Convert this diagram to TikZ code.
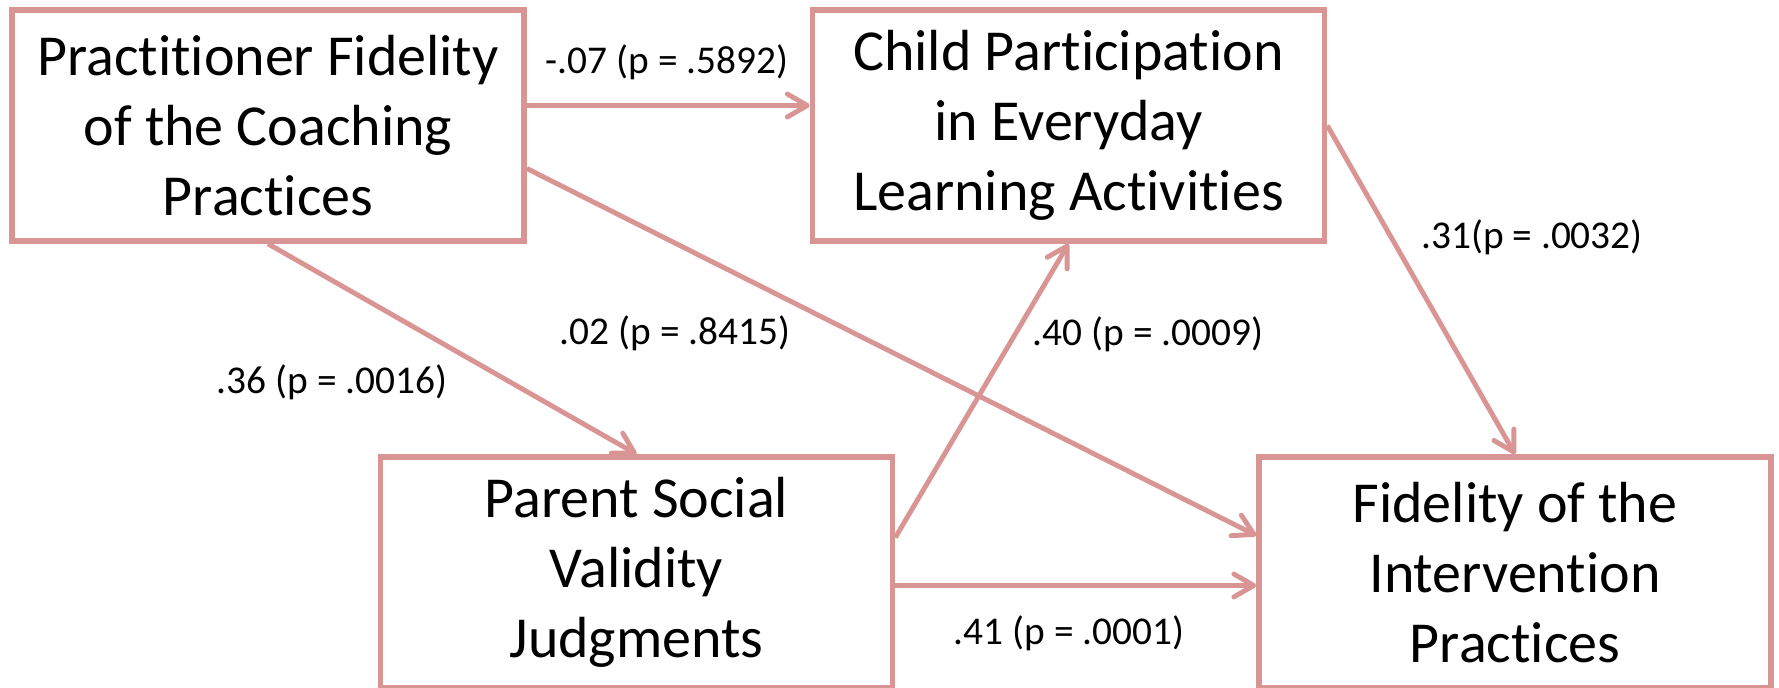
\documentclass[tikz,border=0pt]{standalone}
\usepackage{fontspec}
\setmainfont{Carlito}[Ligatures=NoCommon]
\usetikzlibrary{arrows.meta}
\definecolor{rosepath}{HTML}{D99594}

\begin{document}
\begin{tikzpicture}[every node/.style={align=center},
	box/.style={draw=rosepath, line width=1.6pt, minimum width=5.12cm, minimum height=2.31cm, inner sep=0pt, font=\fontsize{16.5}{19.9}\selectfont},
	arr/.style={draw=rosepath, line width=1.4pt, -{Straight Barb[angle=60:2.3mm, round]}},
	coef/.style={inner sep=0pt, font=\fontsize{11.2}{13.5}\selectfont}]
	\useasboundingbox (0,0) rectangle (17.79,-6.87);
	\node[box] (pfc) at (2.68,-1.255)   {Practitioner Fidelity\\of the Coaching\\Practices};
	\node[box] (cpe) at (10.685,-1.255) {Child Participation\\in Everyday\\Learning Activities};
	\node[box] (pvj) at (6.365,-5.725)  {Parent Social\\Validity\\Judgments};
	\node[box] (fip) at (15.15,-5.725)  {Fidelity of the\\Intervention\\Practices};
	\foreach \from/\to in {pfc.south/pvj.north, cpe.east/fip.north}
	\draw[arr] (\from) -- (\to);
	\draw[arr] ([yshift=2mm]pfc.east) -- ([yshift=2mm]cpe.west);
	\draw[arr] ([yshift=-4.3mm]pfc.east) -- ([yshift=3.7mm]fip.west);
	\draw[arr] ([yshift=3.5mm]pvj.east) -- (cpe.south);
	\draw[arr] ([yshift=-1.3mm]pvj.east) -- ([yshift=-1.3mm]fip.west);
	\node[coef] (c1) at (6.67,-0.62)   {-.07 (p = .5892)};
	\node[coef] (c2) at (3.32,-3.82)   {.36 (p = .0016)};
	\node[coef] (c3) at (6.75,-3.33)   {.02 (p = .8415)};
	\node[coef] (c4) at (11.48,-3.34)  {.40 (p = .0009)};
	\node[coef] (c5) at (15.32,-2.37)  {.31(p = .0032)};
	\node[coef] (c6) at (10.69,-6.33)  {.41 (p = .0001)};
\end{tikzpicture}
\end{document}
